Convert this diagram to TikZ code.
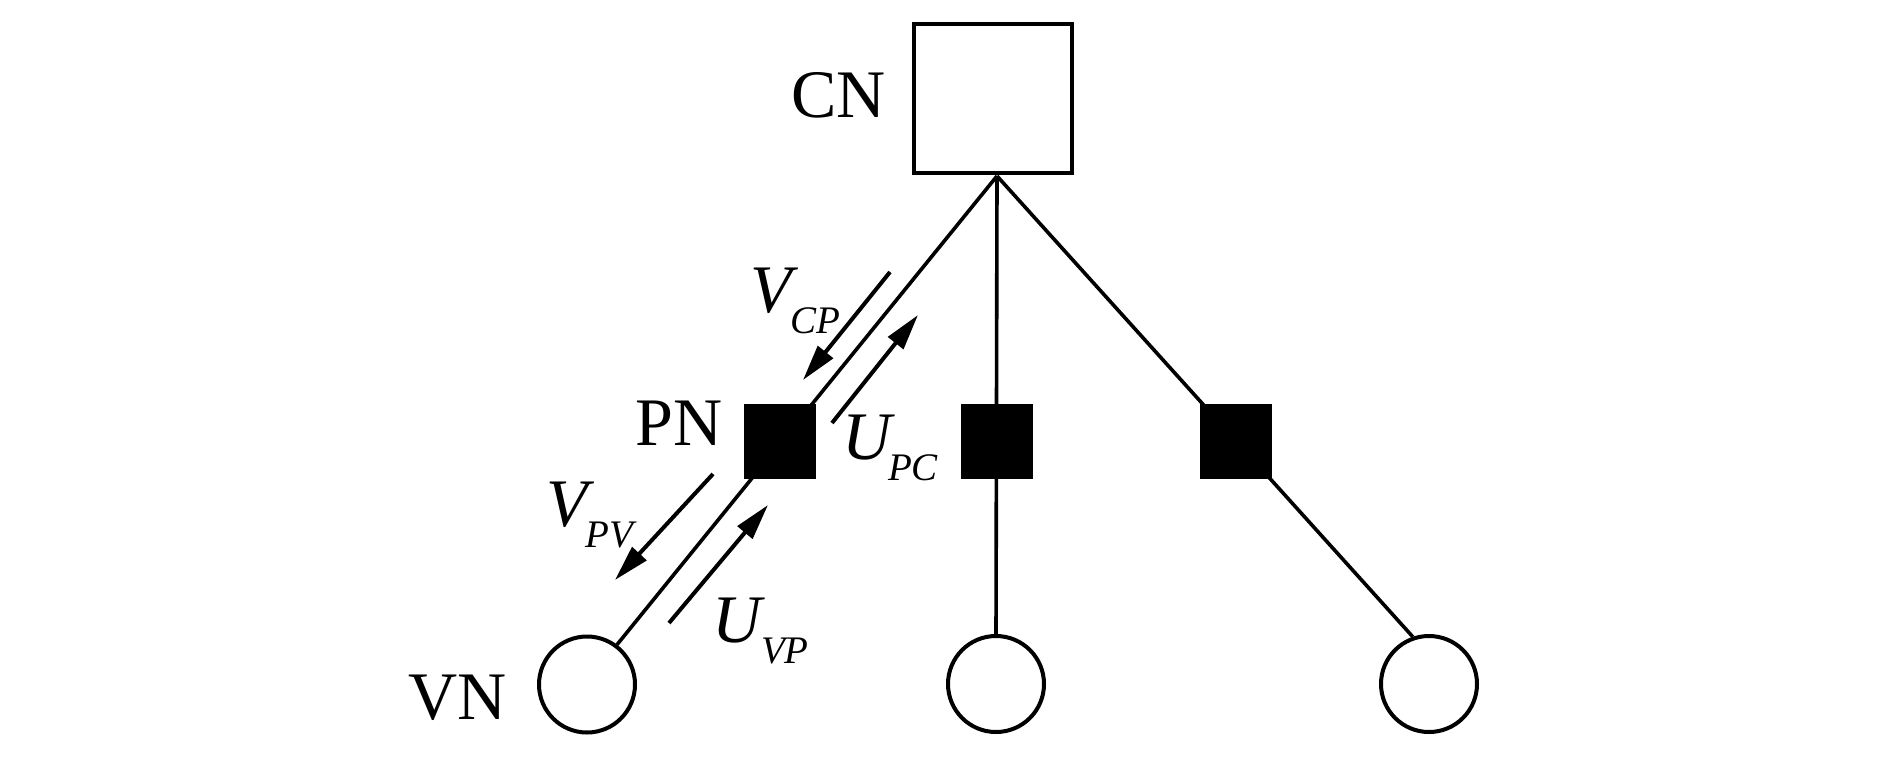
\documentclass[tikz,border=0pt]{standalone}
\usepackage{fontspec}
\setmainfont{Liberation Serif}
\usetikzlibrary{arrows.meta,backgrounds}
\newcommand{\lbl}[3]{\textit{#1}\kern#3\raisebox{-21pt}{\fontsize{39}{39}\selectfont\textit{#2}}}
\begin{document}
\begin{tikzpicture}[x=1pt,y=-1pt,
  cnbox/.style={draw,line width=3.6pt,minimum width=158pt,minimum height=149pt,inner sep=0},
  pnbox/.style={fill=black,minimum width=72pt,minimum height=75pt,inner sep=0},
  vncirc/.style={draw,circle,line width=4pt,minimum size=96pt,inner sep=0},
  link/.style={line width=3.6pt},
  msg/.style={line width=4pt,-{Triangle[length=36pt,width=19pt]}},
  nm/.style={font=\fontsize{68}{68}\selectfont,inner sep=0},
  sb/.style={font=\fontsize{68}{68}\selectfont,inner sep=0,anchor=base west},
  ]
\useasboundingbox (0,0) rectangle (1890,756);
% nodes
\node[cnbox] (CN) at (993,98.5) {};
\coordinate (apex) at (997,176);
\node[pnbox] (PN1) at (780,441) {};
\node[pnbox] (PN2) at (997,441) {};
\node[pnbox] (PN3) at (1236,441) {};
\node[vncirc] (VN1) at (587,684.5) {};
\node[vncirc] (VN2) at (996,684) {};
\node[vncirc] (VN3) at (1429,684) {};
% name labels
\node[nm,anchor=base] (lCN) at (838.5,117) {CN};
\node[nm,anchor=base] (lPN) at (679,445) {PN};
\node[nm,anchor=base] (lVN) at (457.5,719) {VN};
% links
\begin{pgfonlayer}{background}
\fill[white] (0,0) rectangle (1890,756);
\draw[link] (apex) -- (VN1.53);
\draw[link] (apex) -- (VN2.north);
\draw[link] (apex) -- (VN3.109);
\end{pgfonlayer}
% message arrows
\coordinate (vcpA) at (890,272); \coordinate (vcpB) at (803,380);
\coordinate (upcA) at (832,423); \coordinate (upcB) at (918,315);
\coordinate (vpvA) at (713,474); \coordinate (vpvB) at (615,580);
\coordinate (uvpA) at (669,623); \coordinate (uvpB) at (768,505);
\draw[msg] (vcpA) -- (vcpB);
\draw[msg] (upcA) -- (upcB);
\draw[msg] (vpvA) -- (vpvB);
\draw[msg] (uvpA) -- (uvpB);
% message labels
\node[sb] (lVCP) at (750,312) {\lbl{V}{CP}{-8pt}};
\node[sb] (lUPC) at (842,459) {\lbl{U}{PC}{-7pt}};
\node[sb] (lVPV) at (546,526) {\lbl{V}{PV}{-9pt}};
\node[sb] (lUVP) at (712,642) {\lbl{U}{VP}{-4pt}};
\end{tikzpicture}
\end{document}
